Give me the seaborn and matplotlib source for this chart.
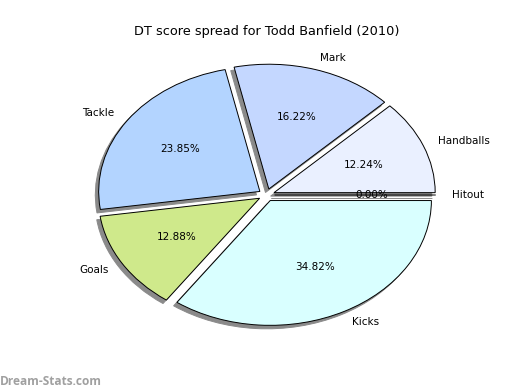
import matplotlib
matplotlib.use("Agg")
import matplotlib.pyplot as plt
import seaborn as sns

labels = ["Hitout", "Handballs", "Mark", "Tackle", "Goals", "Kicks"]
shares = [0.00, 12.24, 16.22, 23.85, 12.88, 34.82]
colours = ["#e0e8ff", "#eaf0ff", "#c4d7ff", "#b3d4ff", "#cfe98b", "#d9ffff"]

sns.set_style("white")
plt.rcParams["font.family"] = ["DejaVu Sans"]

fig = plt.figure(figsize=(5.2, 3.9), dpi=100)
ax = fig.add_axes([0.125, 0.1, 0.775, 0.8])

wedges, texts, autotexts = ax.pie(
    shares,
    labels=labels,
    colors=sns.color_palette(colours),
    explode=[0.05] * len(shares),
    autopct="%1.2f%%",
    shadow={"ox": -0.015, "oy": -0.02, "facecolor": "#8a8a8a",
            "edgecolor": "#8a8a8a", "alpha": 1},
    startangle=0,
    wedgeprops={"edgecolor": "black", "linewidth": 0.7},
    textprops={"fontsize": 7.5, "color": "black"},
)
ax.set_xlim(-1.25, 1.25)
ax.set_ylim(-1.25, 1.25)
ax.set_aspect("auto")
ax.set_title("DT score spread for Todd Banfield (2010)", fontsize=9.3,
             color="black", pad=3)

fig.text(0.0, 0.012, "Dream-Stats.com", color="#a0a0a0", fontsize=8.6,
         fontweight="bold", family=["Open Sans", "DejaVu Sans"])

fig.savefig("out.png", dpi=100)
